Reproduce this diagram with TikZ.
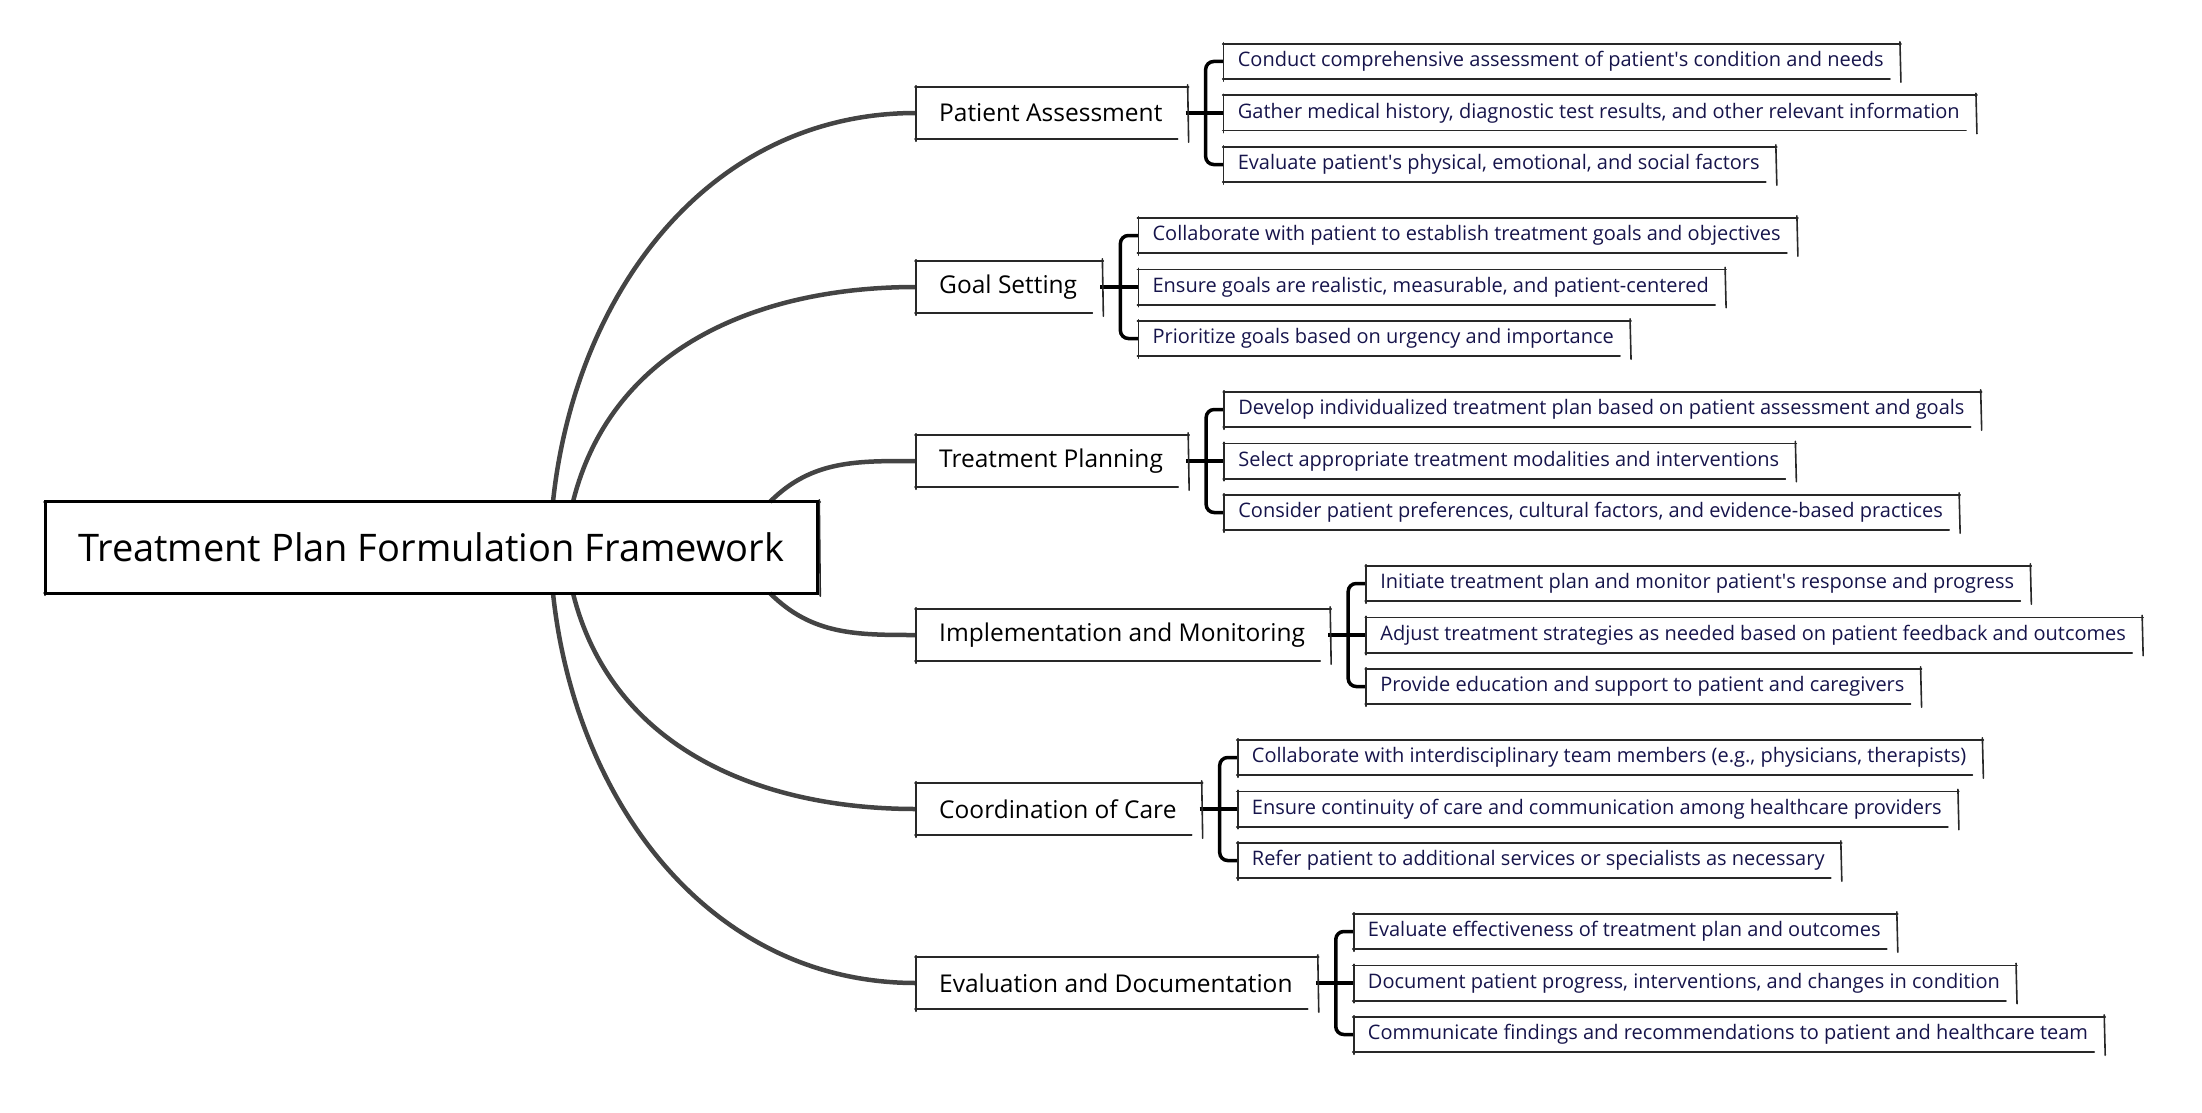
\documentclass[tikz,border=0pt]{standalone}
\usepackage{fontspec}
\setmainfont{Open Sans}
\usetikzlibrary{positioning}
\definecolor{ink}{RGB}{22, 20, 75}
\definecolor{stem}{RGB}{68, 68, 68}
\definecolor{frame}{RGB}{40, 40, 40}

\begin{document}
\begin{tikzpicture}[x=1pt, y=1pt,
  root/.style={minimum height=91pt, inner xsep=33pt, anchor=west, font=\fontsize{38}{42}\selectfont},
  branch/.style={minimum height=52pt, inner xsep=23pt, anchor=west, font=\fontsize{24.5}{28}\selectfont},
  leaf/.style={minimum height=35pt, inner xsep=14pt, text=ink, font=\fontsize{20}{23}\selectfont},
  stemline/.style={stem, line width=4.5pt},
  bracket/.style={black, line width=3.5pt},
  edge/.style={frame, line width=1.6pt, line cap=round}]
  \useasboundingbox (0,0) rectangle (2202,-1113);

  \node[root] (root) at (45,-547.5) {Treatment Plan Formulation Framework};

  \foreach \b/\y/\t/\la/\lb/\lc in {
    pa/113/{Patient Assessment}/{Conduct comprehensive assessment of patient\textquotesingle s condition and needs}/{Gather medical history, diagnostic test results, and other relevant information}/{Evaluate patient\textquotesingle s physical, emotional, and social factors},
    gs/287/{Goal Setting}/{Collaborate with patient to establish treatment goals and objectives}/{Ensure goals are realistic, measurable, and patient-centered}/{Prioritize goals based on urgency and importance},
    tp/461/{Treatment Planning}/{Develop individualized treatment plan based on patient assessment and goals}/{Select appropriate treatment modalities and interventions}/{Consider patient preferences, cultural factors, and evidence-based practices},
    im/635/{Implementation and Monitoring}/{Initiate treatment plan and monitor patient\textquotesingle s response and progress}/{Adjust treatment strategies as needed based on patient feedback and outcomes}/{Provide education and support to patient and caregivers},
    cc/809/{Coordination of Care}/{Collaborate with interdisciplinary team members (e.g., physicians, therapists)}/{Ensure continuity of care and communication among healthcare providers}/{Refer patient to additional services or specialists as necessary},
    ed/983/{Evaluation and Documentation}/{Evaluate effectiveness of treatment plan and outcomes}/{Document patient progress, interventions, and changes in condition}/{Communicate findings and recommendations to patient and healthcare team}} {
    \node[branch] (\b) at (916,-\y) {\t};
    \node[leaf, right=38pt of \b] (\b2) {\lb};
    \node[leaf, right=38pt of \b, yshift=51.5pt] (\b1) {\la};
    \node[leaf, right=38pt of \b, yshift=-51.5pt] (\b3) {\lc};
    \coordinate (\b-s) at ([xshift=20pt]\b.east);
    \draw[bracket] (\b.east) -- (\b2.west);
    \draw[bracket, rounded corners=8pt] (\b1.west) -| (\b-s) |- (\b3.west);
  }

  \draw[stemline] ([xshift=508pt]root.north west) to[out=84, in=180] (pa.west);
  \draw[stemline] ([xshift=528pt]root.north west) to[out=76, in=180] (gs.west);
  \draw[stemline] ([xshift=725pt]root.north west) to[out=45, in=180] (tp.west);
  \draw[stemline] ([xshift=725pt]root.south west) to[out=-45, in=180] (im.west);
  \draw[stemline] ([xshift=528pt]root.south west) to[out=-76, in=180] (cc.west);
  \draw[stemline] ([xshift=508pt]root.south west) to[out=-84, in=180] (ed.west);

  % hand-drawn looking frames
  \foreach \b in {root, pa, gs, tp, im, cc, ed, pa1, pa2, pa3, gs1, gs2, gs3, tp1, tp2, tp3,
                  im1, im2, im3, cc1, cc2, cc3, ed1, ed2, ed3} {
    \draw[edge] ([xshift=-1pt]\b.north west) -- ([xshift=3pt]\b.north east);
    \draw[edge] ([shift={(2pt,2pt)}]\b.north east) -- ([shift={(3pt,-3pt)}]\b.south east);
    \draw[edge] ([xshift=-8pt]\b.south east) -- ([xshift=-1pt]\b.south west);
    \draw[edge] ([yshift=-2pt]\b.south west) -- ([yshift=1pt]\b.north west);
  }
  \draw[black, line width=3pt] (root.north west) rectangle (root.south east);
\end{tikzpicture}
\end{document}
